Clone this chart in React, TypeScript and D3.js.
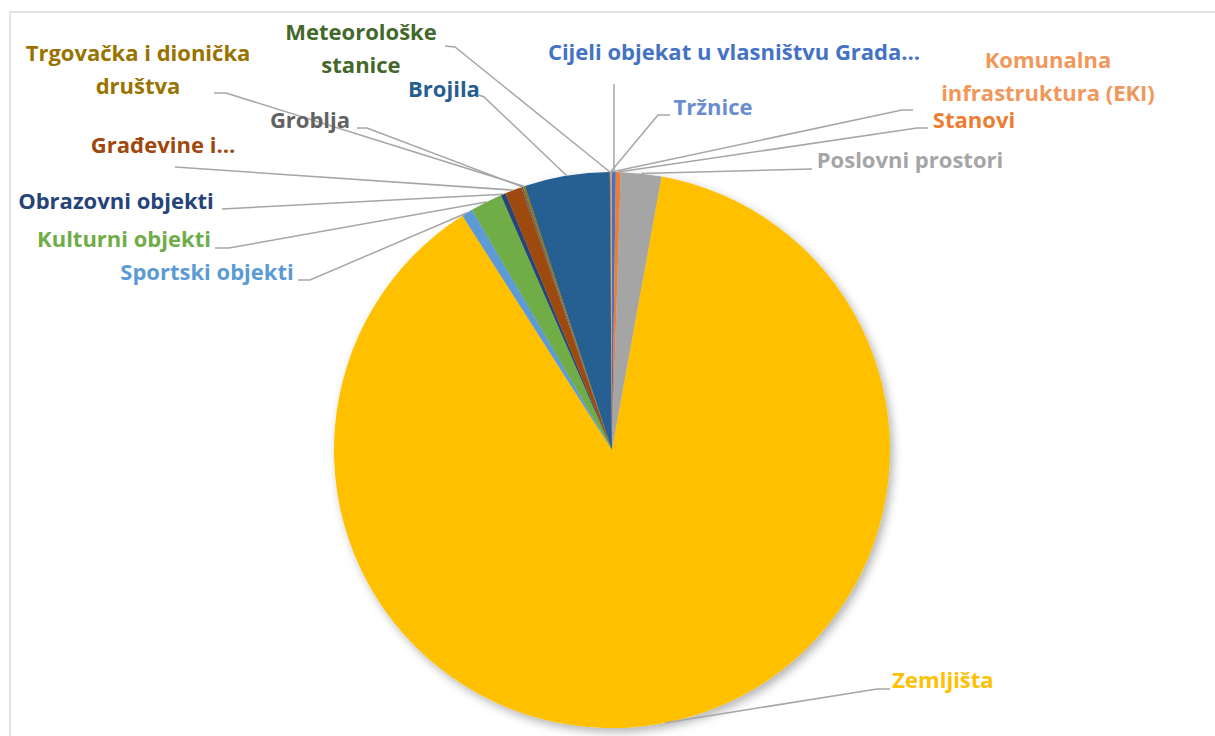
import * as d3 from 'd3';

// Categories in series order (clockwise from 12 o'clock)
const categories = [
  'Cijeli objekat u vlasništvu Grada…',
  'Stanovi',
  'Poslovni prostori',
  'Zemljišta',
  'Sportski objekti',
  'Kulturni objekti',
  'Obrazovni objekti',
  'Građevine i…',
  'Groblja',
  'Trgovačka i dionička društva',
  'Brojila',
  'Meteorološke stanice',
  'Tržnice',
  'Komunalna infrastruktura (EKI)',
];

// Share of total (%)
const shares = [0.22, 0.28, 2.36, 88.1, 0.64, 1.86, 0.28, 0.97, 0.11, 0.11, 4.94, 0.03, 0.03, 0.07];

const colors = [
  '#4472C4', '#ED7D31', '#A5A5A5', '#FFC000', '#5B9BD5', '#70AD47',
  '#264478', '#9E480E', '#636363', '#997300', '#255E91', '#43682B',
  '#698ED0', '#F1975A',
];

// label text lines
const labelLines = [
  ['Cijeli objekat u vlasništvu Grada…'],
  ['Stanovi'],
  ['Poslovni prostori'],
  ['Zemljišta'],
  ['Sportski objekti'],
  ['Kulturni objekti'],
  ['Obrazovni objekti'],
  ['Građevine i…'],
  ['Groblja'],
  ['Trgovačka i dionička', 'društva'],
  ['Brojila'],
  ['Meteorološke', 'stanice'],
  ['Tržnice'],
  ['Komunalna', 'infrastruktura (EKI)'],
];

// label placement: text centre x, first baseline y, leader line points (label end first)
const labelLayout: Array<{ x: number; y: number; leader: [number, number][] }> = [
  { x: 734, y: 60, leader: [[614, 84]] },
  { x: 974, y: 128, leader: [[928, 128], [917, 128]] },
  { x: 910, y: 168, leader: [[812, 169]] },
  { x: 943, y: 688, leader: [[890, 689], [877, 689]] },
  { x: 207, y: 280, leader: [[298, 280], [310, 280]] },
  { x: 124, y: 247, leader: [[215, 248], [229, 248]] },
  { x: 116, y: 209, leader: [[222, 209]] },
  { x: 163, y: 153, leader: [[175, 167]] },
  { x: 310, y: 128, leader: [[357, 128], [367, 128]] },
  { x: 138, y: 61, leader: [[214, 93], [226, 93]] },
  { x: 444, y: 97, leader: [[479, 95], [484, 97]] },
  { x: 361, y: 40, leader: [[445, 46], [455, 47]] },
  { x: 713, y: 115, leader: [[670, 115], [658, 115]] },
  { x: 1048, y: 68, leader: [[913, 110], [902, 110]] },
];

const data = categories.map((name, i) => ({ name, value: shares[i], i }));

export default function App() {
  const width = 1215;
  const height = 736;
  const cx = 612;
  const cy = 450;
  const radius = 278;

  const pie = d3.pie<{ name: string; value: number; i: number }>()
    .sort(null)
    .value(d => d.value);
  const arcs = pie(data);

  const arc = d3.arc<d3.PieArcDatum<{ name: string; value: number; i: number }>>()
    .innerRadius(0)
    .outerRadius(radius);

  const edge = (a: number): [number, number] => [
    cx + radius * Math.sin(a),
    cy - radius * Math.cos(a),
  ];

  const line = d3.line();

  return (
    <svg width={width} height={height} style={{ position: 'absolute', left: 0, top: 0 }}
      fontFamily="'Open Sans', 'Noto Sans', sans-serif">
      <defs>
        <filter id="shadow" x="-10%" y="-10%" width="120%" height="120%">
          <feDropShadow dx="3" dy="4" stdDeviation="5" floodColor="#000" floodOpacity="0.3" />
        </filter>
      </defs>
      <rect x={0} y={0} width={width} height={height} fill="#fff" />
      <rect x={10} y={12} width={width + 20} height={height + 20} fill="#fff" stroke="#D9D9D9" strokeWidth={1.5} />
      <g transform={`translate(${cx},${cy})`} filter="url(#shadow)">
        {arcs.map(a => (
          <path key={a.data.name} d={arc(a) ?? ''} fill={colors[a.data.i]} />
        ))}
      </g>
      {arcs.map(a => {
        const lay = labelLayout[a.data.i];
        const mid = (a.startAngle + a.endAngle) / 2;
        const pts = [...lay.leader, edge(mid)];
        return (
          <path key={'l' + a.data.name} d={line(pts) ?? ''} fill="none" stroke="#A6A6A6" strokeWidth={1.5} />
        );
      })}
      {arcs.map(a => {
        const lay = labelLayout[a.data.i];
        return (
          <text key={'t' + a.data.name} x={lay.x} y={lay.y} textAnchor="middle"
            fontSize={22} fontWeight="bold" fill={colors[a.data.i]}>
            {labelLines[a.data.i].map((s, k) => (
              <tspan key={k} x={lay.x} dy={k === 0 ? 0 : 33}>{s}</tspan>
            ))}
          </text>
        );
      })}
    </svg>
  );
}
